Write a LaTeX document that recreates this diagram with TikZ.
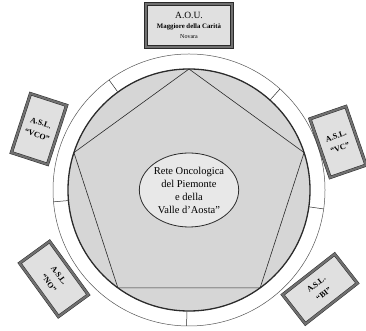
\documentclass[tikz,border=0pt]{standalone}
\usepackage{fontspec}
\setmainfont{Liberation Serif}
\usetikzlibrary{shapes.geometric}
\definecolor{roGray}{HTML}{D6D6D6}
\definecolor{roInk}{HTML}{2B2B2B}
\definecolor{roFrame}{HTML}{707070}
\definecolor{roBox}{HTML}{E0E0E0}

\tikzset{
  aslbox/.style={draw=roInk, line width=0.5pt, double=roFrame, double distance=2.2pt,
    fill=roBox, minimum width=38pt, minimum height=62pt, inner sep=1pt, align=center,
    font=\bfseries\fontsize{8}{12.5}\selectfont},
  aslwide/.style={aslbox, minimum width=66pt, minimum height=37pt},
  ringtick/.style={roInk, line width=0.5pt}
}

\begin{document}
\begin{tikzpicture}[x=1pt,y=1pt]
	\useasboundingbox (0,0) rectangle (366,331);
	\coordinate (c) at (189,141);
	% ring round the network
	\draw[roInk!80, line width=0.5pt] (c) circle (136);
	\fill[roGray] (c) circle (121);
	\draw[roInk, line width=1.3pt] (c) circle (121);
	\foreach \a in {48,126,185,269,352}
		\draw[ringtick] (c) ++(\a:121.6) -- ++(\a:14.4);
	% pentagon and centre
	\node[regular polygon, regular polygon sides=5, minimum size=242pt, inner sep=0pt,
		outer sep=0pt, draw=roInk, line width=0.6pt] (penta) at (c) {};
	\node[ellipse, draw=roInk, line width=0.8pt, fill=roGray!55, minimum width=96pt,
		minimum height=74pt, inner sep=0pt, align=center,
		font=\fontsize{10.5}{13}\selectfont] (rete) at (c)
		{Rete Oncologica\\del Piemonte\\e della\\Valle d'Aosta”};
	% partners
	\node[aslbox, minimum width=86pt, minimum height=43pt, font=\fontsize{9.5}{11}\selectfont] (aou) at (189,305.5)
		{A.O.U.\\[-1pt]{\bfseries\fontsize{6.8}{9}\selectfont Maggiore della Carità}\\[-1pt]{\fontsize{6}{7}\selectfont Novara}};
	\node[aslbox, rotate=-18] (vco) at (39,202) {A.S.L.\\“VCO”};
	\node[aslbox, rotate=19] (vc) at (338,189) {A.S.L.\\“VC”};
	\node[aslwide, rotate=-54] (no) at (54,52) {A.S.L.\\“NO”};
	\node[aslwide, rotate=38] (bi) at (320,42) {A.S.L.\\“BI”};
\end{tikzpicture}
\end{document}
